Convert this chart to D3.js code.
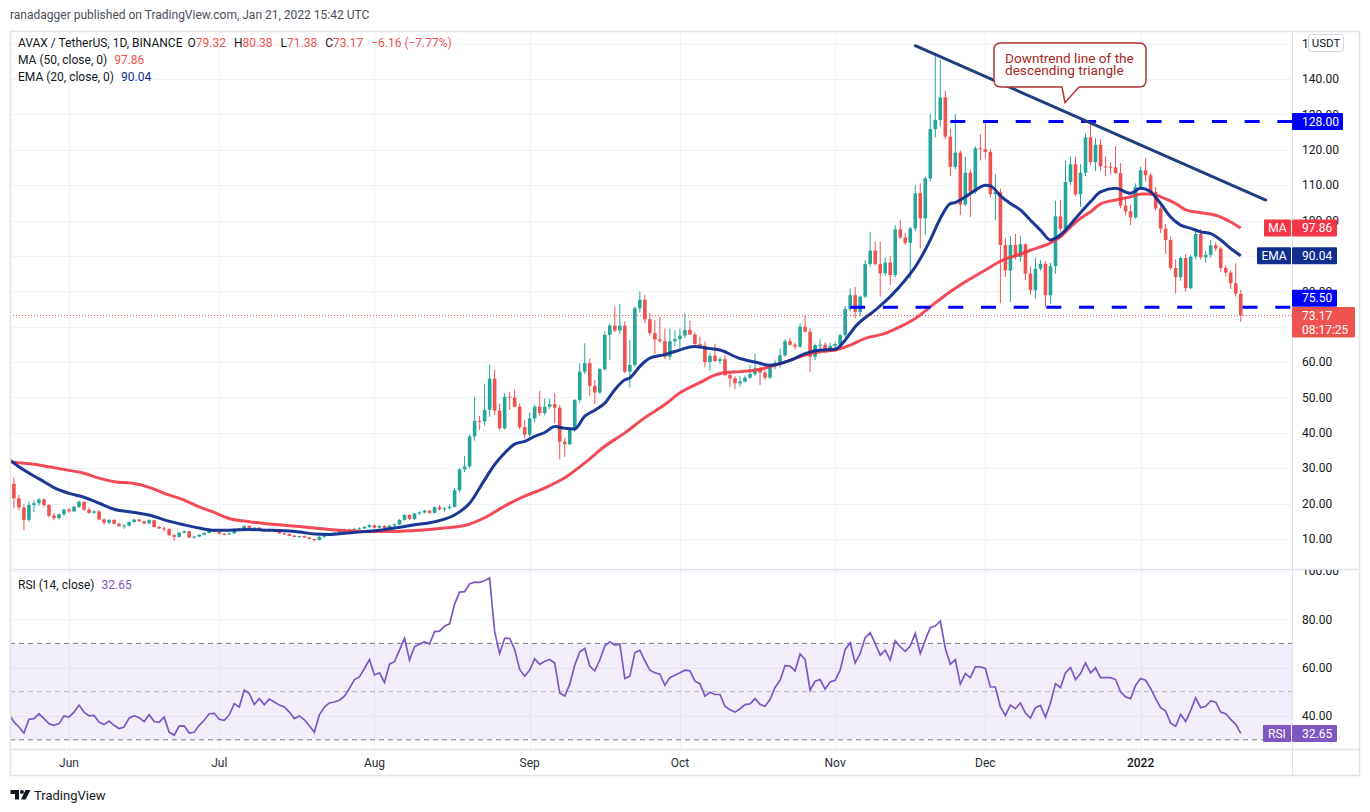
<!DOCTYPE html>
<html>
<head>
<meta charset="utf-8">
<title>AVAX / TetherUS, 1D</title>
<script src="https://d3js.org/d3.v7.min.js"></script>
<style>
  body { margin: 0; background: #fff; }
  svg text { font-family: Roboto, "Noto Sans", sans-serif; }
</style>
</head>
<body>
<div id="chart"></div>
<script>
// daily candles, 2021-05-20 .. 2022-01-21 (one line per month)
const firstDay = "2021-05-20";
const lastDay = "2022-01-21";

const opens = [
  22.9, 25.6, 21.5, 18.9, 15.4, 19.6, 20.1, 21.2, 19.6, 16.6, 15.9, 17.0,
  18.3, 17.8, 19.1, 20.5, 18.3, 17.4, 17.8, 15.5, 14.6, 15.4, 14.3, 13.6, 13.8, 14.8, 15.5, 15.0, 14.4, 15.3, 13.4, 13.0, 12.8, 11.1, 10.6, 11.8, 12.2, 10.4, 10.7, 11.2, 11.7, 12.4,
  12.1, 11.5, 11.3, 11.6, 12.8, 12.6, 13.7, 12.9, 13.2, 12.6, 12.5, 12.7, 12.1, 11.6, 11.4, 10.9, 10.6, 10.8, 10.4, 10.0, 9.7, 10.6, 11.0, 11.4, 11.8, 12.3, 12.4, 12.6, 12.8, 13.0, 13.4,
  13.9, 13.2, 13.7, 13.1, 13.8, 14.1, 15.4, 16.8, 15.7, 17.2, 17.5, 18.0, 17.4, 19.0, 18.4, 18.7, 19.1, 23.8, 29.7, 30.5, 39.0, 43.4, 43.2, 46.5, 55.3, 46.3, 41.3, 50.2, 50.0, 47.4, 41.6,
  39.5, 44.1, 47.4, 45.6, 47.4, 48.1, 47.1, 37.5, 36.8, 40.8, 49.3, 57.3, 59.7, 53.3, 51.4, 58.0, 67.7, 70.3, 68.9, 70.3, 57.3, 59.2, 75.2, 77.6, 72.1, 68.2, 66.4, 65.9, 61.5, 65.9,
  66.5, 67.5, 69.1, 67.8, 65.1, 64.6, 60.0, 61.8, 60.3, 60.8, 56.3, 55.4, 54.0, 54.5, 55.6, 56.6, 58.2, 57.0, 55.6, 58.7, 59.8, 61.9, 65.9, 64.9, 64.4, 70.0, 68.6, 61.5, 64.8, 64.9, 63.4,
  64.6, 65.1, 67.6, 75.0, 78.9, 74.2, 78.5, 87.7, 91.5, 87.7, 85.1, 88.1, 84.6, 97.5, 95.2, 93.7, 97.8, 107.7, 100.6, 111.9, 125.8, 128.4, 134.8, 123.7, 115.2, 119.2, 104.5, 113.5, 108.2, 120.4,
  120.2, 119.4, 107.5, 108.0, 93.1, 85.9, 93.1, 89.7, 93.3, 85.0, 80.3, 86.4, 87.8, 78.9, 87.1, 101.2, 97.7, 110.9, 115.9, 107.4, 113.5, 123.5, 116.5, 121.4, 115.3, 115.2, 115.0, 113.4, 104.2, 102.6, 100.9,
  109.5, 114.2, 112.8, 108.1, 103.4, 97.7, 94.5, 86.6, 84.0, 89.4, 80.9, 89.8, 96.2, 89.6, 90.3, 93.0, 92.1, 86.6, 85.3, 82.3, 79.32
];
const highs = [
  26.5, 27.4, 22.4, 19.8, 20.6, 20.9, 21.6, 21.5, 19.9, 17.4, 17.2, 18.6,
  18.7, 19.4, 20.9, 20.7, 18.9, 18.1, 18.2, 15.9, 15.6, 15.6, 14.6, 14.2, 14.9, 15.7, 15.7, 15.2, 15.6, 15.4, 13.8, 13.5, 13.0, 11.4, 11.9, 12.4, 12.3, 10.9, 11.3, 11.9, 12.6, 12.6,
  12.2, 11.7, 11.8, 12.9, 13.1, 13.9, 13.9, 13.3, 13.4, 12.9, 12.9, 12.8, 12.2, 11.8, 11.6, 11.2, 10.9, 11.0, 10.6, 10.2, 10.8, 11.1, 11.5, 11.9, 12.4, 12.9, 12.9, 13.1, 13.3, 13.7, 14.2,
  14.1, 13.9, 13.9, 14.0, 14.4, 15.6, 17.0, 17.0, 17.4, 17.8, 18.3, 18.2, 19.2, 19.6, 19.0, 19.8, 24.5, 30.0, 33.5, 39.5, 50.2, 44.8, 53.8, 59.2, 57.8, 48.3, 51.2, 51.6, 52.3, 48.3, 43.6,
  45.7, 48.0, 51.8, 49.7, 49.7, 51.3, 47.8, 38.5, 41.5, 49.5, 59.6, 65.3, 61.0, 55.0, 58.3, 68.6, 70.9, 75.7, 76.4, 71.5, 66.2, 75.7, 80.0, 79.0, 73.8, 71.9, 72.8, 69.5, 69.5, 69.0,
  69.5, 73.8, 71.7, 68.4, 67.2, 65.8, 62.5, 65.1, 61.5, 62.0, 57.3, 56.0, 56.0, 56.2, 59.1, 62.4, 58.8, 57.6, 59.3, 60.5, 63.8, 66.5, 66.8, 65.5, 71.0, 73.3, 69.5, 65.2, 66.5, 65.6, 65.5,
  65.8, 68.0, 75.8, 80.8, 81.2, 78.8, 88.8, 96.8, 94.0, 94.0, 89.6, 90.0, 98.7, 100.1, 96.5, 98.2, 110.0, 110.5, 112.5, 130.1, 147.1, 145.4, 136.7, 126.0, 130.1, 119.8, 118.0, 114.5, 121.0, 124.4,
  127.7, 120.3, 113.1, 109.0, 95.0, 95.6, 96.2, 95.6, 93.6, 87.0, 89.5, 88.8, 88.5, 88.0, 105.6, 105.8, 116.9, 118.0, 118.0, 115.9, 124.6, 127.3, 123.3, 123.0, 118.0, 116.5, 121.0, 116.2, 106.8, 104.5, 110.5,
  115.2, 117.6, 113.5, 109.5, 105.0, 99.0, 95.5, 89.0, 89.8, 90.5, 90.2, 96.8, 97.6, 91.5, 94.5, 93.8, 92.6, 87.3, 86.0, 87.9, 80.38
];
const lows = [
  21.0, 18.7, 18.0, 12.5, 14.9, 17.6, 19.4, 19.0, 16.1, 15.3, 15.5, 16.4,
  17.4, 17.6, 18.8, 17.9, 17.1, 17.2, 15.3, 14.0, 14.1, 14.1, 13.4, 12.9, 13.5, 14.5, 14.8, 14.2, 14.2, 13.2, 12.8, 12.1, 10.9, 9.5, 10.4, 11.5, 10.3, 10.1, 10.5, 11.0, 11.5, 11.8,
  11.3, 11.0, 11.1, 11.5, 12.3, 12.4, 12.7, 12.4, 12.5, 12.3, 12.3, 11.9, 11.5, 11.1, 10.8, 10.5, 10.4, 10.3, 9.9, 9.3, 9.6, 10.4, 10.8, 11.2, 11.5, 12.0, 12.1, 12.4, 12.6, 12.8, 13.2,
  12.9, 13.0, 12.9, 12.9, 13.5, 13.9, 15.2, 15.4, 15.3, 16.8, 17.2, 17.0, 17.2, 18.1, 17.8, 18.3, 18.9, 23.2, 28.9, 30.0, 37.8, 40.8, 42.0, 44.5, 45.0, 40.8, 40.9, 46.5, 47.2, 41.0, 38.4,
  38.9, 43.0, 44.8, 45.0, 46.8, 42.7, 32.5, 33.2, 36.5, 40.3, 48.5, 56.6, 50.5, 48.1, 51.0, 57.5, 60.6, 68.5, 68.0, 56.8, 52.8, 58.5, 74.0, 71.0, 67.5, 62.3, 65.5, 60.8, 60.5, 64.5,
  64.0, 66.8, 67.6, 64.2, 63.8, 58.5, 57.5, 60.0, 59.5, 56.0, 53.0, 52.3, 53.0, 54.2, 55.2, 56.0, 53.5, 55.0, 55.2, 58.0, 58.5, 61.5, 64.6, 63.6, 64.0, 68.3, 57.2, 60.5, 63.8, 62.5, 62.8,
  63.0, 64.6, 66.8, 74.3, 72.3, 73.0, 78.0, 87.0, 87.3, 78.5, 84.5, 81.8, 84.0, 94.8, 93.2, 83.6, 97.0, 92.1, 95.9, 111.0, 123.5, 126.5, 123.0, 112.6, 114.5, 101.5, 104.0, 101.0, 107.5, 117.0,
  117.5, 106.5, 100.1, 76.6, 84.1, 77.0, 89.0, 88.5, 83.2, 79.0, 78.0, 85.9, 75.6, 76.5, 85.0, 97.0, 96.5, 110.0, 107.0, 103.9, 112.5, 115.5, 114.0, 114.0, 112.5, 113.0, 113.3, 103.5, 101.5, 98.7, 100.5,
  108.8, 111.0, 107.0, 102.8, 96.5, 90.6, 86.0, 79.4, 83.0, 79.9, 80.5, 89.0, 89.0, 88.0, 89.5, 91.3, 85.5, 84.2, 80.6, 78.5, 71.38
];
const closes = [
  25.6, 21.5, 18.9, 15.4, 19.6, 20.1, 21.2, 19.6, 16.6, 15.9, 17.0, 18.3,
  17.8, 19.1, 20.5, 18.3, 17.4, 17.8, 15.5, 14.6, 15.4, 14.3, 13.6, 13.8, 14.8, 15.5, 15.0, 14.4, 15.3, 13.4, 13.0, 12.8, 11.1, 10.6, 11.8, 12.2, 10.4, 10.7, 11.2, 11.7, 12.4, 12.1,
  11.5, 11.3, 11.6, 12.8, 12.6, 13.7, 12.9, 13.2, 12.6, 12.5, 12.7, 12.1, 11.6, 11.4, 10.9, 10.6, 10.8, 10.4, 10.0, 9.7, 10.6, 11.0, 11.4, 11.8, 12.3, 12.4, 12.6, 12.8, 13.0, 13.4, 13.9,
  13.2, 13.7, 13.1, 13.8, 14.1, 15.4, 16.8, 15.7, 17.2, 17.5, 18.0, 17.4, 19.0, 18.4, 18.7, 19.1, 23.8, 29.7, 30.5, 39.0, 43.4, 43.2, 46.5, 55.3, 46.3, 41.3, 50.2, 50.0, 47.4, 41.6, 39.5,
  44.1, 47.4, 45.6, 47.4, 48.1, 47.1, 37.5, 36.8, 40.8, 49.3, 57.3, 59.7, 53.3, 51.4, 58.0, 67.7, 70.3, 68.9, 70.3, 57.3, 59.2, 75.2, 77.6, 72.1, 68.2, 66.4, 65.9, 61.5, 65.9, 66.5,
  67.5, 69.1, 67.8, 65.1, 64.6, 60.0, 61.8, 60.3, 60.8, 56.3, 55.4, 54.0, 54.5, 55.6, 56.6, 58.2, 57.0, 55.6, 58.7, 59.8, 61.9, 65.9, 64.9, 64.4, 70.0, 68.6, 61.5, 64.8, 64.9, 63.4, 64.6,
  65.1, 67.6, 75.0, 78.9, 74.2, 78.5, 87.7, 91.5, 87.7, 85.1, 88.1, 84.6, 97.5, 95.2, 93.7, 97.8, 107.7, 100.6, 111.9, 125.8, 128.4, 134.8, 123.7, 115.2, 119.2, 104.5, 113.5, 108.2, 120.4, 120.2,
  119.4, 107.5, 108.0, 93.1, 85.9, 93.1, 89.7, 93.3, 85.0, 80.3, 86.4, 87.8, 78.9, 87.1, 101.2, 97.7, 110.9, 115.9, 107.4, 113.5, 123.5, 116.5, 121.4, 115.3, 115.2, 115.0, 113.4, 104.2, 102.6, 100.9, 109.5,
  114.2, 112.8, 108.1, 103.4, 97.7, 94.5, 86.6, 84.0, 89.4, 80.9, 89.8, 96.2, 89.6, 90.3, 93.0, 92.1, 86.6, 85.3, 82.3, 79.32, 73.17
];

// RSI (14, close), one value per day
const rsi = [
  40.8, 37.4, 35.3, 32.8, 38.5, 38.8, 40.8, 38.8, 36.7, 36.0, 36.7, 39.9,
  39.4, 41.5, 44.4, 41.5, 39.9, 40.1, 37.4, 36.3, 37.8, 36.0, 34.7, 35.3, 39.0, 40.0, 39.2, 37.6, 40.4, 37.6, 37.2, 39.4, 33.2, 31.9, 35.7, 35.8, 32.8, 33.1, 36.0, 38.1, 40.8, 41.0,
  38.5, 38.1, 40.4, 45.0, 43.6, 50.6, 49.2, 44.7, 47.1, 44.6, 46.9, 45.7, 44.4, 43.6, 41.5, 38.8, 39.9, 38.3, 35.8, 33.2, 40.4, 43.6, 45.3, 45.7, 46.4, 48.1, 51.3, 55.0, 56.1, 59.6, 63.3,
  56.9, 57.8, 53.8, 61.4, 62.4, 67.2, 72.1, 63.1, 68.6, 69.7, 70.7, 69.7, 74.9, 75.1, 77.2, 78.1, 86.3, 91.3, 91.5, 94.7, 95.4, 95.3, 96.0, 97.1, 74.9, 65.8, 72.1, 72.1, 67.5, 59.2, 56.4,
  58.9, 63.6, 61.3, 62.6, 63.3, 61.9, 49.4, 48.2, 53.1, 61.0, 66.5, 67.9, 60.6, 58.6, 63.1, 68.9, 70.7, 69.3, 69.7, 55.4, 56.4, 66.1, 67.2, 62.8, 58.9, 57.8, 57.2, 52.6, 55.8, 56.8,
  57.8, 58.9, 58.6, 54.3, 53.3, 48.1, 49.7, 48.8, 48.8, 43.9, 42.5, 41.5, 42.9, 44.6, 44.9, 47.1, 44.7, 43.9, 46.7, 51.7, 54.7, 60.8, 60.6, 58.6, 65.6, 63.3, 50.6, 54.3, 55.0, 51.0, 54.0,
  54.7, 58.9, 67.5, 70.3, 61.9, 65.8, 72.4, 74.4, 70.0, 65.1, 67.2, 63.1, 71.1, 68.6, 66.7, 68.9, 74.2, 65.8, 71.4, 76.5, 77.2, 79.3, 67.9, 61.4, 63.3, 53.1, 57.5, 55.8, 60.3, 60.3,
  59.6, 51.9, 51.9, 43.6, 40.1, 44.4, 42.9, 45.3, 41.1, 39.0, 43.3, 44.3, 39.4, 45.3, 53.3, 51.7, 57.8, 60.0, 55.0, 57.5, 61.9, 57.8, 59.9, 55.8, 55.8, 55.8, 55.0, 49.9, 47.8, 47.1, 52.6,
  55.4, 54.7, 51.3, 47.1, 43.3, 41.9, 36.9, 35.6, 40.6, 37.6, 42.2, 47.4, 43.3, 43.9, 46.1, 45.6, 41.5, 40.8, 38.5, 36.4, 32.65
];

// EMA (20, close)
const emaDates = ["2021-05-20","2021-05-22","2021-05-25","2021-05-27","2021-05-29","2021-06-01","2021-06-04","2021-06-07","2021-06-10","2021-06-14","2021-06-17","2021-06-20","2021-06-24","2021-06-27","2021-06-30","2021-07-03","2021-07-07","2021-07-10","2021-07-13","2021-07-17","2021-07-20","2021-07-23","2021-07-26","2021-07-30","2021-08-02","2021-08-05","2021-08-09","2021-08-12","2021-08-15","2021-08-17","2021-08-20","2021-08-23","2021-08-25","2021-08-27","2021-08-29","2021-08-31","2021-09-02","2021-09-04","2021-09-06","2021-09-08","2021-09-10","2021-09-12","2021-09-14","2021-09-16","2021-09-18","2021-09-20","2021-09-21","2021-09-23","2021-09-25","2021-09-28","2021-09-30","2021-10-04","2021-10-06","2021-10-09","2021-10-13","2021-10-16","2021-10-19","2021-10-23","2021-10-26","2021-10-29","2021-11-01","2021-11-03","2021-11-05","2021-11-09","2021-11-12","2021-11-15","2021-11-17","2021-11-20","2021-11-22","2021-11-24","2021-11-25","2021-11-27","2021-11-29","2021-12-01","2021-12-02","2021-12-04","2021-12-06","2021-12-08","2021-12-10","2021-12-12","2021-12-14","2021-12-15","2021-12-17","2021-12-19","2021-12-22","2021-12-24","2021-12-27","2021-12-30","2022-01-01","2022-01-03","2022-01-05","2022-01-07","2022-01-09","2022-01-11","2022-01-13","2022-01-15","2022-01-17","2022-01-19","2022-01-21"];
const emaValues = [32.5, 30.4, 27.8, 26.2, 24.5, 22.9, 21.8, 20.1, 18.4, 17.5, 16.8, 15.4, 14.0, 13.1, 12.5, 12.5, 12.7, 12.5, 12.4, 12.0, 11.4, 11.3, 11.6, 12.1, 12.5, 13.1, 14.0, 14.6, 15.6, 16.8, 20.1, 26.7, 31.0, 34.3, 36.8, 37.6, 39.0, 40.1, 41.8, 41.3, 41.1, 44.7, 46.4, 48.4, 52.2, 55.0, 55.5, 58.8, 61.1, 62.1, 63.0, 64.4, 64.0, 63.4, 61.0, 60.0, 59.1, 60.5, 62.4, 63.4, 63.6, 66.2, 70.0, 74.7, 78.5, 83.2, 86.9, 94.5, 100.6, 104.8, 105.1, 106.7, 108.6, 110.0, 109.8, 107.0, 104.8, 103.0, 100.1, 97.3, 94.5, 95.0, 97.3, 100.6, 105.3, 108.1, 109.1, 107.7, 109.1, 108.1, 104.8, 101.0, 98.7, 97.8, 96.8, 96.3, 94.5, 92.1, 90.04];

// MA (50, close)
const maDates = ["2021-05-20","2021-05-25","2021-05-28","2021-06-01","2021-06-04","2021-06-07","2021-06-10","2021-06-14","2021-06-17","2021-06-20","2021-06-24","2021-06-27","2021-06-30","2021-07-03","2021-07-07","2021-07-10","2021-07-13","2021-07-17","2021-07-20","2021-07-23","2021-07-26","2021-07-30","2021-08-02","2021-08-05","2021-08-09","2021-08-12","2021-08-15","2021-08-19","2021-08-23","2021-08-27","2021-08-31","2021-09-04","2021-09-08","2021-09-12","2021-09-16","2021-09-20","2021-09-24","2021-09-28","2021-10-01","2021-10-05","2021-10-09","2021-10-13","2021-10-16","2021-10-19","2021-10-23","2021-10-26","2021-10-29","2021-11-01","2021-11-04","2021-11-07","2021-11-11","2021-11-14","2021-11-17","2021-11-20","2021-11-23","2021-11-27","2021-12-01","2021-12-04","2021-12-08","2021-12-10","2021-12-14","2021-12-16","2021-12-18","2021-12-20","2021-12-22","2021-12-24","2021-12-27","2021-12-30","2022-01-01","2022-01-03","2022-01-05","2022-01-08","2022-01-10","2022-01-13","2022-01-16","2022-01-19","2022-01-21"];
const maValues = [31.8, 31.1, 30.4, 29.4, 28.6, 27.2, 26.2, 25.7, 24.6, 22.9, 21.0, 19.1, 17.5, 15.8, 14.9, 14.4, 14.0, 13.5, 13.1, 12.7, 12.4, 12.1, 12.1, 12.1, 12.4, 12.7, 13.1, 13.8, 16.0, 19.3, 22.1, 24.4, 27.3, 31.5, 36.2, 40.0, 44.3, 48.0, 51.3, 54.2, 56.8, 57.3, 57.7, 58.7, 60.5, 62.0, 62.9, 63.4, 64.8, 66.7, 68.1, 70.0, 72.3, 75.6, 78.9, 82.7, 86.0, 88.5, 90.5, 91.6, 93.7, 95.4, 98.2, 100.6, 102.5, 104.7, 105.8, 106.7, 107.5, 107.5, 106.7, 104.8, 103.0, 102.2, 101.5, 99.6, 97.86];

// drawings
const trendDates = ["2021-11-17", "2022-01-26"];
const trendValues = [149.4, 105.8];
const levels = [128.00, 75.50];
const levelStarts = ["2021-11-24", "2021-11-04"];
const lastPrice = 73.17;
const countdown = "08:17:25";
const maLast = 97.86, emaLast = 90.04, rsiLast = 32.65;

// tick labels (90 and 70 sit fully under the EMA / last-price tags)
const priceTicks = [10, 20, 30, 40, 50, 60, 80, 100, 110, 120, 130, 140, 150];
const gridTicks = [10, 20, 30, 40, 50, 60, 70, 80, 90, 100, 110, 120, 130, 140, 150];
const rsiTicks = [40, 60, 80, 100];
const monthTicks = ["2021-06-01","2021-07-01","2021-08-01","2021-09-01","2021-10-01","2021-11-01","2021-12-01","2022-01-01"];
const monthLabels = ["Jun","Jul","Aug","Sep","Oct","Nov","Dec","2022"];

// ---------- layout ----------
const W = 1370, H = 812;
const left = 10, axisX = 1292, right = 1360;
const mainTop = 31, mainBot = 569, rsiBot = 749, timeBot = 776;

const UP = "#26a69a", DOWN = "#ef5350";
const MA_C = "#f23645", EMA_C = "#0f2e8e", RSI_C = "#7e57c2", LEVEL_C = "#0000ff";
const GRID = "#f0f3fa", BORDER = "#e0e3eb", TXT = "#131722";

const parse = d3.utcParse("%Y-%m-%d");
const days = d3.utcDay.range(parse(firstDay), d3.utcDay.offset(parse(lastDay), 1));

const x = d3.scaleUtc()
    .domain([parse("2021-06-01"), parse("2022-01-01")])
    .range([69, 1140.6]);
const y = d3.scaleLinear().domain([10, 140]).range([539, 79]);
const yR = d3.scaleLinear().domain([30, 70]).range([739.8, 643.4]);

const svg = d3.select("#chart").append("svg")
    .attr("width", W).attr("height", H)
    .style("display", "block");

const defs = svg.append("defs");
defs.append("clipPath").attr("id", "clipMain").append("rect")
    .attr("x", left).attr("y", mainTop).attr("width", axisX - left).attr("height", mainBot - mainTop);
defs.append("clipPath").attr("id", "clipRsi").append("rect")
    .attr("x", left).attr("y", mainBot).attr("width", axisX - left).attr("height", rsiBot - mainBot);
defs.append("clipPath").attr("id", "clipRsiAxis").append("rect")
    .attr("x", axisX).attr("y", mainBot + 1).attr("width", right - axisX).attr("height", rsiBot - mainBot - 1);

// header
svg.append("text").attr("x", 10).attr("y", 15).attr("dy", "0.35em")
    .attr("font-size", 12).attr("fill", "#4a4e59")
    .text("ranadagger published on TradingView.com, Jan 21, 2022 15:42 UTC");

// grid
const grid = svg.append("g");
grid.selectAll(".hg").data(gridTicks).join("line")
    .attr("x1", left).attr("x2", axisX)
    .attr("y1", d => Math.round(y(d)) + 0.5).attr("y2", d => Math.round(y(d)) + 0.5)
    .attr("stroke", GRID);
grid.selectAll(".rg").data(rsiTicks).join("line")
    .attr("x1", left).attr("x2", axisX)
    .attr("y1", d => Math.round(yR(d)) + 0.5).attr("y2", d => Math.round(yR(d)) + 0.5)
    .attr("stroke", GRID);
grid.selectAll(".vg").data(monthTicks).join("line")
    .attr("x1", d => Math.round(x(parse(d))) + 0.5).attr("x2", d => Math.round(x(parse(d))) + 0.5)
    .attr("y1", mainTop).attr("y2", rsiBot)
    .attr("stroke", GRID);

// ---------- main pane ----------
const main = svg.append("g").attr("clip-path", "url(#clipMain)");

// last price dotted line
main.append("line")
    .attr("x1", left).attr("x2", axisX)
    .attr("y1", y(lastPrice)).attr("y2", y(lastPrice))
    .attr("stroke", DOWN).attr("stroke-width", 1).attr("stroke-dasharray", "1 2");

const bw = 3.6;
const cg = main.append("g");
days.forEach((d, i) => {
  const o = opens[i], h = highs[i], l = lows[i], c = closes[i];
  const col = c >= o ? UP : DOWN;
  const cx = x(d);
  cg.append("line")
      .attr("x1", cx).attr("x2", cx)
      .attr("y1", y(h)).attr("y2", y(l))
      .attr("stroke", col).attr("stroke-width", 1);
  const top = y(Math.max(o, c)), bot = y(Math.min(o, c));
  cg.append("rect")
      .attr("x", cx - bw / 2).attr("y", top)
      .attr("width", bw).attr("height", Math.max(1, bot - top))
      .attr("fill", col);
});

const lineGen = d3.line().x(d => x(d.date)).y(d => y(d.v)).curve(d3.curveMonotoneX);
const maPts = maDates.map((d, i) => ({ date: parse(d), v: maValues[i] }));
const emaPts = emaDates.map((d, i) => ({ date: parse(d), v: emaValues[i] }));
main.append("path").datum(maPts).attr("d", lineGen)
    .attr("fill", "none").attr("stroke", MA_C).attr("stroke-width", 3).attr("stroke-opacity", 0.9);
main.append("path").datum(emaPts).attr("d", lineGen)
    .attr("fill", "none").attr("stroke", EMA_C).attr("stroke-width", 3).attr("stroke-opacity", 0.95);

// support / resistance levels
levels.forEach((lv, i) => {
  main.append("line")
      .attr("x1", x(parse(levelStarts[i]))).attr("x2", axisX)
      .attr("y1", y(lv)).attr("y2", y(lv))
      .attr("stroke", LEVEL_C).attr("stroke-width", 3)
      .attr("stroke-dasharray", "15 17.7");
});

// downtrend line
main.append("line")
    .attr("x1", x(parse(trendDates[0]))).attr("y1", y(trendValues[0]))
    .attr("x2", x(parse(trendDates[1]))).attr("y2", y(trendValues[1]))
    .attr("stroke", "#1f3f7d").attr("stroke-width", 3).attr("stroke-linecap", "round");

// callout
const cb = { x0: 994, x1: 1146, y0: 43, y1: 87, r: 7 };
const callout = svg.append("g");
callout.append("path")
    .attr("d", `M${cb.x0 + cb.r},${cb.y0} H${cb.x1 - cb.r} Q${cb.x1},${cb.y0} ${cb.x1},${cb.y0 + cb.r}
      V${cb.y1 - cb.r} Q${cb.x1},${cb.y1} ${cb.x1 - cb.r},${cb.y1} H1079 L1065,102.7 L1062,${cb.y1}
      H${cb.x0 + cb.r} Q${cb.x0},${cb.y1} ${cb.x0},${cb.y1 - cb.r} V${cb.y0 + cb.r} Q${cb.x0},${cb.y0} ${cb.x0 + cb.r},${cb.y0} Z`)
    .attr("fill", "#fff").attr("stroke", "#b23434").attr("stroke-width", 1.5);
callout.append("text").attr("x", 1005).attr("y", 62.5)
    .attr("font-size", 13.6).attr("fill", "#a82626").text("Downtrend line of the");
callout.append("text").attr("x", 1005).attr("y", 74.5)
    .attr("font-size", 13.6).attr("fill", "#a82626").text("descending triangle");

// ---------- RSI pane ----------
const rp = svg.append("g").attr("clip-path", "url(#clipRsi)");
rp.append("rect")
    .attr("x", left).attr("width", axisX - left)
    .attr("y", yR(70)).attr("height", yR(30) - yR(70))
    .attr("fill", RSI_C).attr("fill-opacity", 0.1);
[[70, 1], [50, 0.5], [30, 1]].forEach(([v, op]) => {
  rp.append("line")
      .attr("x1", left).attr("x2", axisX)
      .attr("y1", yR(v)).attr("y2", yR(v))
      .attr("stroke", "#787b86").attr("stroke-opacity", op)
      .attr("stroke-dasharray", "5 4");
});
rp.append("path").datum(rsi)
    .attr("d", d3.line().x((d, i) => x(days[i])).y(d => yR(d)))
    .attr("fill", "none").attr("stroke", RSI_C).attr("stroke-width", 1.7);

// ---------- frame & separators ----------
svg.append("rect")
    .attr("x", left + 0.5).attr("y", mainTop + 0.5)
    .attr("width", right - left - 1).attr("height", timeBot - mainTop - 1)
    .attr("fill", "none").attr("stroke", BORDER).attr("stroke-width", 1.5);
svg.append("line").attr("x1", axisX + 0.5).attr("x2", axisX + 0.5)
    .attr("y1", mainTop).attr("y2", timeBot).attr("stroke", BORDER);
[mainBot, rsiBot].forEach(v => {
  svg.append("line").attr("x1", left).attr("x2", right)
      .attr("y1", v + 0.5).attr("y2", v + 0.5).attr("stroke", BORDER).attr("stroke-width", 1.5);
});

// ---------- price axis ----------
const pa = svg.append("g");
pa.selectAll("text").data(priceTicks).join("text")
    .attr("x", 1302).attr("y", d => y(d)).attr("dy", "0.35em")
    .attr("font-size", 12).attr("fill", TXT)
    .text(d => d.toFixed(2));

// USDT unit box
pa.append("rect").attr("x", 1308.5).attr("y", 34.5).attr("width", 35).attr("height", 17).attr("rx", 3)
    .attr("fill", "#fff").attr("stroke", "#d1d4dc");
pa.append("text").attr("x", 1326).attr("y", 43).attr("dy", "0.35em").attr("text-anchor", "middle")
    .attr("font-size", 11.5).attr("fill", TXT).text("USDT");

function tag(x0, w, cy, h, fill, label, anchorMid) {
  pa.append("rect").attr("x", x0).attr("y", cy - h / 2).attr("width", w).attr("height", h)
      .attr("fill", fill).attr("rx", 1);
  pa.append("text")
      .attr("x", anchorMid ? x0 + w / 2 : 1302).attr("y", cy).attr("dy", "0.35em")
      .attr("text-anchor", anchorMid ? "middle" : "start")
      .attr("font-size", 12).attr("fill", "#fff").text(label);
}

tag(axisX, 51, y(levels[0]), 17, LEVEL_C, levels[0].toFixed(2));
tag(1264, 27, y(maLast), 17, MA_C, "MA", true);
tag(axisX, 45, y(maLast), 17, MA_C, maLast.toFixed(2));
tag(1257, 34, y(emaLast), 17, EMA_C, "EMA", true);
tag(axisX, 45, y(emaLast), 17, EMA_C, emaLast.toFixed(2));
tag(axisX, 45, y(levels[1]) - 9, 17, LEVEL_C, levels[1].toFixed(2));
// last price + countdown
const lpY = y(lastPrice);
pa.append("rect").attr("x", axisX).attr("y", lpY - 8.5).attr("width", 63).attr("height", 30.5)
    .attr("fill", DOWN).attr("rx", 1);
pa.append("text").attr("x", 1302).attr("y", lpY).attr("dy", "0.35em")
    .attr("font-size", 12).attr("fill", "#fff").text(lastPrice.toFixed(2));
pa.append("text").attr("x", 1302).attr("y", lpY + 14.5).attr("dy", "0.35em")
    .attr("font-size", 12).attr("fill", "#fff").text(countdown);

// ---------- RSI axis ----------
const ra = svg.append("g").attr("clip-path", "url(#clipRsiAxis)");
ra.selectAll("text").data(rsiTicks).join("text")
    .attr("x", 1302).attr("y", d => yR(d)).attr("dy", "0.35em")
    .attr("font-size", 12).attr("fill", TXT)
    .text(d => d.toFixed(2));
svg.append("rect").attr("x", 1263).attr("y", yR(rsiLast) - 8.5).attr("width", 28).attr("height", 17)
    .attr("fill", RSI_C).attr("rx", 1);
svg.append("text").attr("x", 1277).attr("y", yR(rsiLast)).attr("dy", "0.35em").attr("text-anchor", "middle")
    .attr("font-size", 12).attr("fill", "#fff").text("RSI");
svg.append("rect").attr("x", axisX).attr("y", yR(rsiLast) - 8.5).attr("width", 45).attr("height", 17)
    .attr("fill", RSI_C).attr("rx", 1);
svg.append("text").attr("x", 1302).attr("y", yR(rsiLast)).attr("dy", "0.35em")
    .attr("font-size", 12).attr("fill", "#fff").text(rsiLast.toFixed(2));

// ---------- time axis ----------
svg.append("g").selectAll("text").data(monthTicks).join("text")
    .attr("x", d => x(parse(d))).attr("y", 762.5).attr("dy", "0.35em")
    .attr("text-anchor", "middle").attr("font-size", 12)
    .attr("fill", (d, i) => monthLabels[i] === "2022" ? TXT : "#2a2e39")
    .attr("font-weight", (d, i) => monthLabels[i] === "2022" ? 500 : 400)
    .text((d, i) => monthLabels[i]);

// ---------- legends ----------
function legendLine(yPos, parts) {
  const t = svg.append("text").attr("x", 18).attr("y", yPos).attr("dy", "0.35em").attr("font-size", 12);
  parts.forEach(p => {
    const s = t.append("tspan").attr("fill", p[1]).text(p[0]);
    if (p[2]) s.attr("dx", p[2]);
  });
}
legendLine(42.5, [
  ["AVAX / TetherUS, 1D, BINANCE", TXT],
  ["O", TXT, 5], [opens[opens.length - 1].toFixed(2), DOWN],
  ["H", TXT, 8], [highs[highs.length - 1].toFixed(2), DOWN],
  ["L", TXT, 8], [lows[lows.length - 1].toFixed(2), DOWN],
  ["C", TXT, 8], [closes[closes.length - 1].toFixed(2), DOWN],
  ["\u22126.16 (\u22127.77%)", DOWN, 8]
]);
legendLine(59.5, [["MA (50, close, 0)", TXT], [maLast.toFixed(2), DOWN, 7]]);
legendLine(77, [["EMA (20, close, 0)", TXT], [emaLast.toFixed(2), EMA_C, 7]]);
legendLine(585, [["RSI (14, close)", TXT], [rsiLast.toFixed(2), RSI_C, 7]]);

// ---------- footer ----------
const logo = svg.append("g").attr("fill", TXT);
logo.append("path").attr("d", "M10.5,790 h8.5 v9.5 h-4 v-5.5 h-4.5 z");
logo.append("circle").attr("cx", 22).attr("cy", 792).attr("r", 2);
logo.append("path").attr("d", "M25.5,790 h5 l-5,9.5 h-4.5 z");
svg.append("text").attr("x", 34).attr("y", 795).attr("dy", "0.35em")
    .attr("font-size", 13).attr("fill", TXT).text("TradingView");
</script>
</body>
</html>
